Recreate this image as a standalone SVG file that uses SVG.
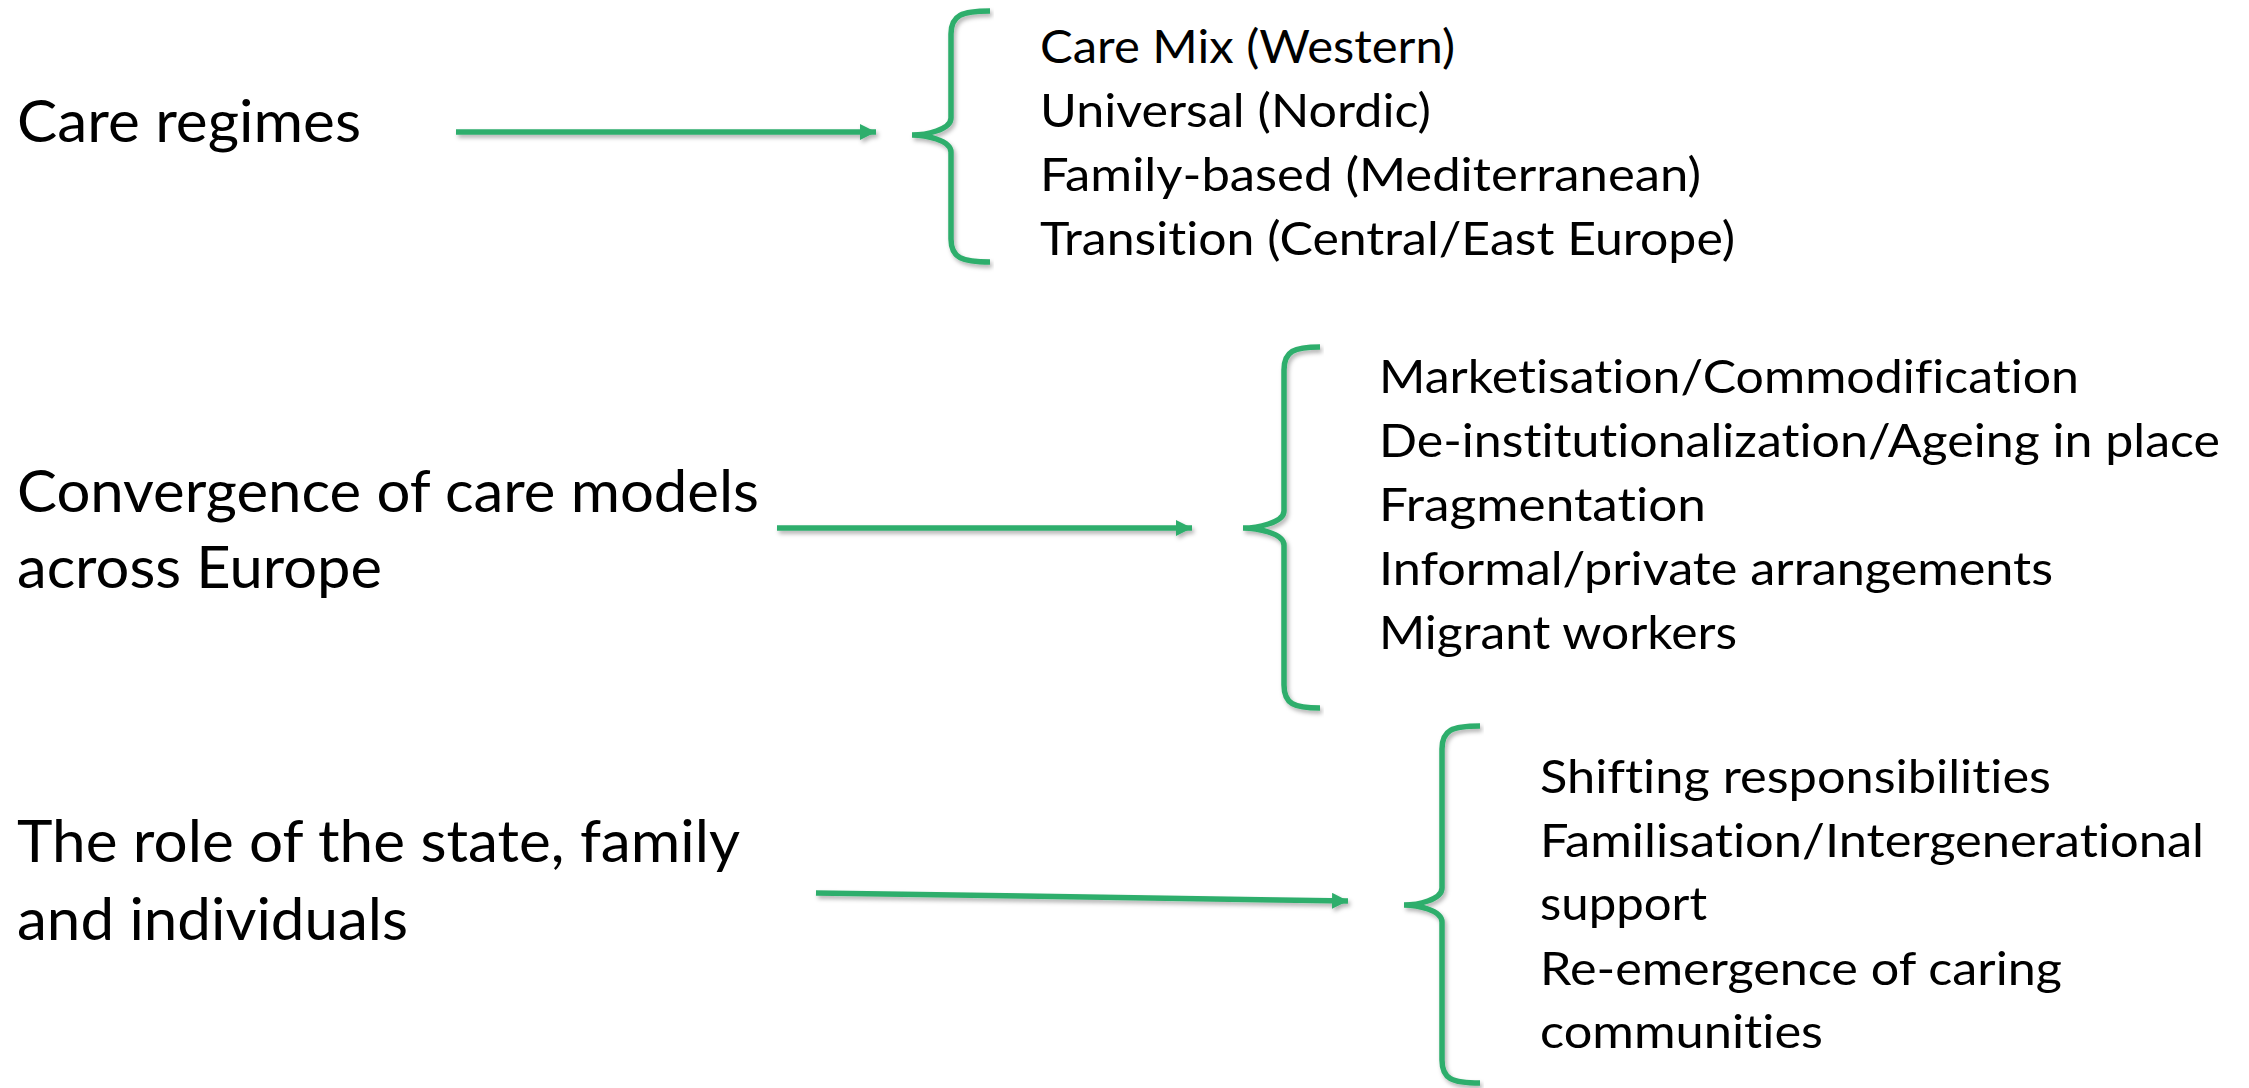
<svg xmlns="http://www.w3.org/2000/svg" width="2249" height="1088" viewBox="0 0 2249 1088">
<style>
  .lbl { font-family: Lato, "Open Sans", "Liberation Sans", sans-serif; fill: #000; font-variant-ligatures: none; }
  .main { font-size: 58px; }
  .item { font-size: 47px; }
  .conn { stroke: #2fae6c; stroke-width: 5.5; fill: none; }
  .brace { stroke: #2fae6c; stroke-width: 5.5; fill: none; stroke-linecap: butt; }
</style>
<defs>
  <filter id="sh" x="-5%" y="-20%" width="110%" height="140%">
    <feDropShadow dx="2" dy="3" stdDeviation="2" flood-color="#000" flood-opacity="0.3"/>
  </filter>
  <marker id="ah" markerUnits="userSpaceOnUse" markerWidth="17" markerHeight="16" refX="16" refY="8" orient="auto">
    <path d="M0,0 L16,8 L0,16 z" fill="#2fae6c"/>
  </marker>
</defs>
<rect width="2249" height="1088" fill="#fff"/>

<g id="node-care-regimes">
  <text class="lbl main" x="17" y="142" textLength="344" lengthAdjust="spacingAndGlyphs">Care regimes</text>
</g>
<g id="node-convergence">
  <text class="lbl main" x="17" y="512" textLength="742" lengthAdjust="spacingAndGlyphs">Convergence of care models</text>
  <text class="lbl main" x="17" y="588" textLength="365" lengthAdjust="spacingAndGlyphs">across Europe</text>
</g>
<g id="node-role">
  <text class="lbl main" x="17" y="862" textLength="723" lengthAdjust="spacingAndGlyphs">The role of the state, family</text>
  <text class="lbl main" x="17" y="940" textLength="391" lengthAdjust="spacingAndGlyphs">and individuals</text>
</g>

<g id="brace-regimes">
  <path class="brace" filter="url(#sh)" d="M990,11 C962,11 951,15 951,34 L951,118 C951,130 925,135 912,135 C925,135 951,140 951,152 L951,239 C951,258 962,262 990,262"/>
  <text class="lbl item" x="1040" y="63" textLength="415" lengthAdjust="spacingAndGlyphs">Care Mix (Western)</text>
  <text class="lbl item" x="1040" y="127" textLength="391" lengthAdjust="spacingAndGlyphs">Universal (Nordic)</text>
  <text class="lbl item" x="1040" y="191" textLength="661" lengthAdjust="spacingAndGlyphs">Family-based (Mediterranean)</text>
  <text class="lbl item" x="1040" y="255" textLength="695" lengthAdjust="spacingAndGlyphs">Transition (Central/East Europe)</text>
</g>

<g id="brace-convergence">
  <path class="brace" filter="url(#sh)" d="M1320,347 C1294,347 1284,351 1284,370 L1284,511 C1284,523 1256,528 1243,528 C1256,528 1284,533 1284,545 L1284,685 C1284,704 1294,708 1320,708"/>
  <text class="lbl item" x="1379" y="393" textLength="700" lengthAdjust="spacingAndGlyphs">Marketisation/Commodification</text>
  <text class="lbl item" x="1379" y="457" textLength="841" lengthAdjust="spacingAndGlyphs">De-institutionalization/Ageing in place</text>
  <text class="lbl item" x="1379" y="521" textLength="327" lengthAdjust="spacingAndGlyphs">Fragmentation</text>
  <text class="lbl item" x="1379" y="585" textLength="674" lengthAdjust="spacingAndGlyphs">Informal/private arrangements</text>
  <text class="lbl item" x="1379" y="649" textLength="358" lengthAdjust="spacingAndGlyphs">Migrant workers</text>
</g>

<g id="brace-role">
  <path class="brace" filter="url(#sh)" d="M1480,726 C1452,726 1442,730 1442,749 L1442,888 C1442,900 1417,905 1404,905 C1417,905 1442,910 1442,922 L1442,1060 C1442,1079 1452,1083 1480,1083"/>
  <text class="lbl item" x="1540" y="793" textLength="511" lengthAdjust="spacingAndGlyphs">Shifting responsibilities</text>
  <text class="lbl item" x="1540" y="857" textLength="664" lengthAdjust="spacingAndGlyphs">Familisation/Intergenerational</text>
  <text class="lbl item" x="1540" y="920" textLength="167" lengthAdjust="spacingAndGlyphs">support</text>
  <text class="lbl item" x="1540" y="985" textLength="522" lengthAdjust="spacingAndGlyphs">Re-emergence of caring</text>
  <text class="lbl item" x="1540" y="1048" textLength="283" lengthAdjust="spacingAndGlyphs">communities</text>
</g>

<g id="connectors" filter="url(#sh)">
  <path class="conn" d="M456,132 L876,132" marker-end="url(#ah)"/>
  <path class="conn" d="M777,528 L1192,528" marker-end="url(#ah)"/>
  <path class="conn" d="M816,893 L1348,901" marker-end="url(#ah)"/>
</g>
</svg>
